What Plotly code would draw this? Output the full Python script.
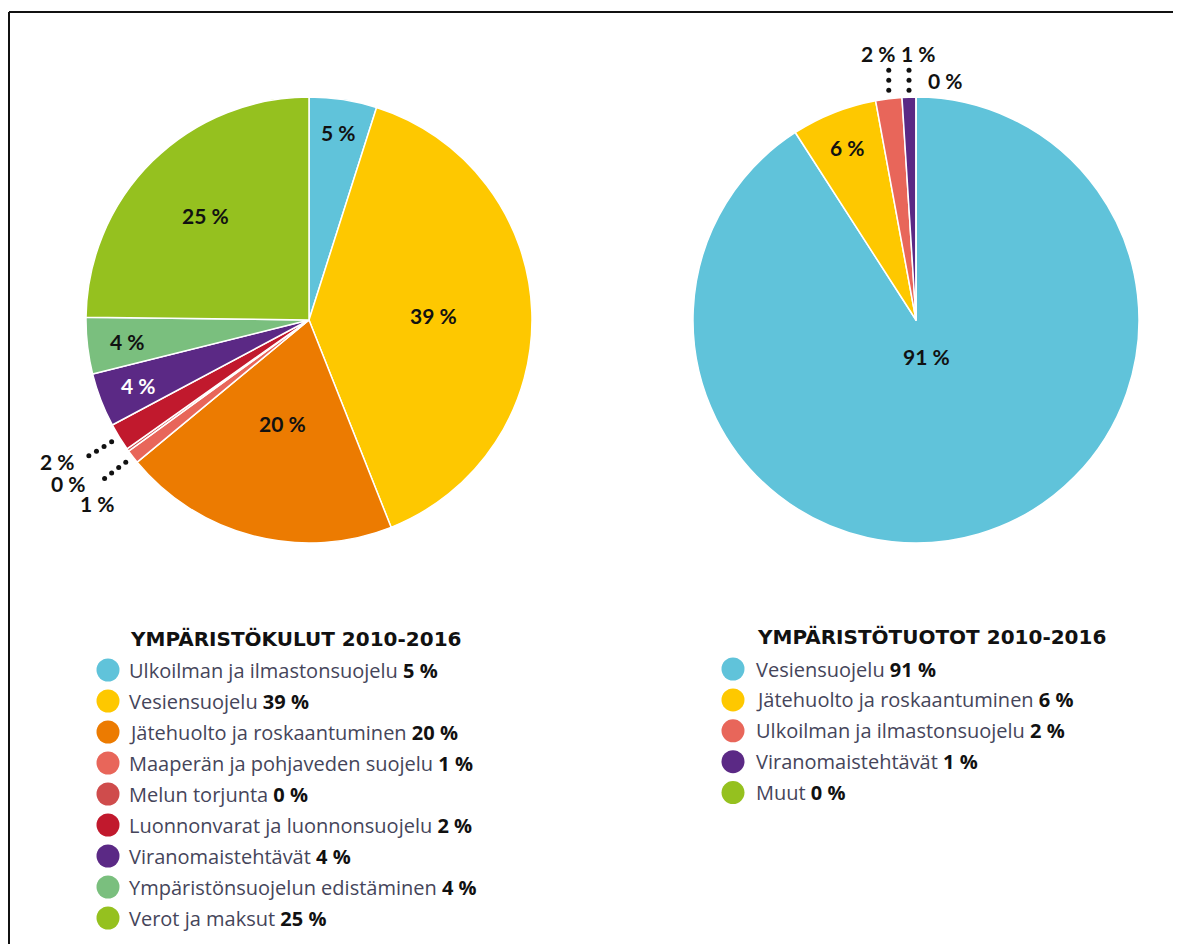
import math
import plotly.graph_objects as go

W, H = 1181, 944
PAGE_OFF = 8  # the browser page adds an 8px body margin

# ---------------- data ----------------
cost_title = "YMPÄRISTÖKULUT 2010-2016"
cost_labels = ["Ulkoilman ja ilmastonsuojelu", "Vesiensuojelu", "Jätehuolto ja roskaantuminen",
               "Maaperän ja pohjaveden suojelu", "Melun torjunta", "Luonnonvarat ja luonnonsuojelu",
               "Viranomaistehtävät", "Ympäristönsuojelun edistäminen", "Verot ja maksut"]
cost_values = [4.9, 39.1, 20.0, 1.0, 0.2, 2.0, 3.9, 4.1, 24.8]
cost_pct = ["5 %", "39 %", "20 %", "1 %", "0 %", "2 %", "4 %", "4 %", "25 %"]

income_title = "YMPÄRISTÖTUOTOT 2010-2016"
income_labels = ["Vesiensuojelu", "Jätehuolto ja roskaantuminen", "Ulkoilman ja ilmastonsuojelu",
                 "Viranomaistehtävät", "Muut"]
income_values = [90.9, 6.2, 1.9, 1.0, 0.0]
income_pct = ["91 %", "6 %", "2 %", "1 %", "0 %"]

# ---------------- styles ----------------
cost_colors = ["#60c3da", "#fec800", "#ec7b01", "#e8665a", "#cf4c4c", "#c1192d",
               "#5b2985", "#7abf7e", "#95c11f"]
income_colors = ["#60c3da", "#fec800", "#e8665a", "#5b2985", "#95c11f"]

NUM_FONT = "Lato"
LEG_FONT = "Open Sans"
TITLE_FONT = "DejaVu Sans"
LEG_TEXT = "#45455a"
R = 223
LEFT_C = (309, 320)
RIGHT_C = (916, 320)

FW, FH = W - PAGE_OFF, H - PAGE_OFF  # figure size


def domain(c):
    cx, cy = c[0] - PAGE_OFF, c[1] - PAGE_OFF
    return dict(x=[(cx - R) / FW, (cx + R) / FW], y=[1 - (cy + R) / FH, 1 - (cy - R) / FH])


def mids(values):
    tot = sum(values)
    out, cum = [], 0.0
    for v in values:
        out.append((cum + v / 2) / tot * 360)
        cum += v
    return out


def polar(c, theta, r):
    cx, cy = c
    t = math.radians(theta)
    return cx + r * math.sin(t), cy - r * math.cos(t)


fig = go.Figure()

for vals, labs, cols, c in [(cost_values, cost_labels, cost_colors, LEFT_C),
                            (income_values, income_labels, income_colors, RIGHT_C)]:
    fig.add_trace(go.Pie(values=vals, labels=labs, sort=False, direction="clockwise",
                         rotation=0, domain=domain(c), textinfo="none", textposition="none",
                         marker=dict(colors=cols, line=dict(color="white", width=1.5)),
                         showlegend=False, hoverinfo="label+percent"))

annotations = []


def label(x, y, text, color="#111111", size=21, xanchor="center"):
    annotations.append(dict(x=x, y=y, xref="x", yref="y", text="<b>" + text + "</b>",
                            showarrow=False, xanchor=xanchor, yanchor="middle",
                            font=dict(family=NUM_FONT, size=size, color=color)))


# inside labels (radius fraction, colour) per slice index
cost_inside = {0: (0.85, "#111111"), 1: (0.56, "#111111"), 2: (0.48, "#111111"),
               6: (0.82, "white"), 7: (0.82, "#111111"), 8: (0.66, "#111111")}
cm = mids(cost_values)
for i, (fr, col) in cost_inside.items():
    x, y = polar(LEFT_C, cm[i], fr * R)
    label(x, y, cost_pct[i], col)

income_inside = {0: (0.17, "#111111"), 1: (0.83, "#111111")}
im = mids(income_values)
for i, (fr, col) in income_inside.items():
    x, y = polar(RIGHT_C, im[i], fr * R)
    label(x, y, income_pct[i], col)

# leader dots
dot_x, dot_y = [], []
leader_end = {}
for i in (5, 3):
    pts = [polar(LEFT_C, cm[i], R * f) for f in (1.04, 1.08, 1.12, 1.16)]
    dot_x += [p[0] for p in pts]
    dot_y += [p[1] for p in pts]
    leader_end[("L", i)] = pts[-1]
for i in (2, 3):
    x0, _ = polar(RIGHT_C, im[i], R)
    pts = [(x0, RIGHT_C[1] - R * f) for f in (1.03, 1.075, 1.12)]
    dot_x += [p[0] for p in pts]
    dot_y += [p[1] for p in pts]
    leader_end[("R", i)] = pts[-1]

fig.add_trace(go.Scatter(x=dot_x, y=dot_y, mode="markers", xaxis="x", yaxis="y",
                         marker=dict(size=5, color="#111111"), showlegend=False,
                         hoverinfo="skip"))

# outside labels
ex, ey = leader_end[("L", 5)]
label(ex - 12, ey + 6, cost_pct[5], xanchor="right")
ex, ey = leader_end[("L", 3)]
label(ex - 17, ey + 5, cost_pct[4], xanchor="right")
label(ex + 12, ey + 25, cost_pct[3], xanchor="right")
ex, ey = leader_end[("R", 2)]
label(ex - 10, ey - 17, income_pct[2])
ex, ey = leader_end[("R", 3)]
label(ex + 9, ey - 17, income_pct[3])
label(ex + 17, ey + 10, income_pct[4], xanchor="left")


# legends
def legend(x_circle, x_text, y_title, y0, step, title, labs, pcts, cols):
    ys = [y0 + k * step for k in range(len(labs))]
    fig.add_trace(go.Scatter(x=[x_circle] * len(labs), y=ys, mode="markers", xaxis="x", yaxis="y",
                             marker=dict(size=23, color=cols, line=dict(width=0)),
                             showlegend=False, hoverinfo="skip"))
    annotations.append(dict(x=x_text - 2, y=y_title, xref="x", yref="y", text="<b>" + title + "</b>",
                            showarrow=False, xanchor="left", yanchor="middle",
                            font=dict(family=TITLE_FONT, size=20, color="#111111")))
    for lab, p, y in zip(labs, pcts, ys):
        annotations.append(dict(x=x_text - 3, y=y, xref="x", yref="y",
                                text=lab + " <span style='color:#111111'><b>" + p + "</b></span>",
                                showarrow=False, xanchor="left", yanchor="middle",
                                font=dict(family=LEG_FONT, size=20, color=LEG_TEXT)))


legend(108, 130, 639, 670, 31.0, cost_title, cost_labels, cost_pct, cost_colors)
legend(733, 757, 637, 669, 30.9, income_title, income_labels, income_pct, income_colors)

shapes = [
    dict(type="line", xref="x", yref="y", x0=9, x1=W + 5, y0=12, y1=12,
         line=dict(color="#111111", width=2)),
    dict(type="line", xref="x", yref="y", x0=9, x1=9, y0=12, y1=H + 5,
         line=dict(color="#111111", width=2)),
]

fig.update_layout(
    width=FW, height=FH, margin=dict(l=0, r=0, t=0, b=0),
    paper_bgcolor="white", plot_bgcolor="rgba(0,0,0,0)",
    xaxis=dict(range=[PAGE_OFF, W], domain=[0, 1], visible=False, fixedrange=True),
    yaxis=dict(range=[H, PAGE_OFF], domain=[0, 1], visible=False, fixedrange=True),
    annotations=annotations, shapes=shapes, showlegend=False,
)

fig.write_html("out.html")
